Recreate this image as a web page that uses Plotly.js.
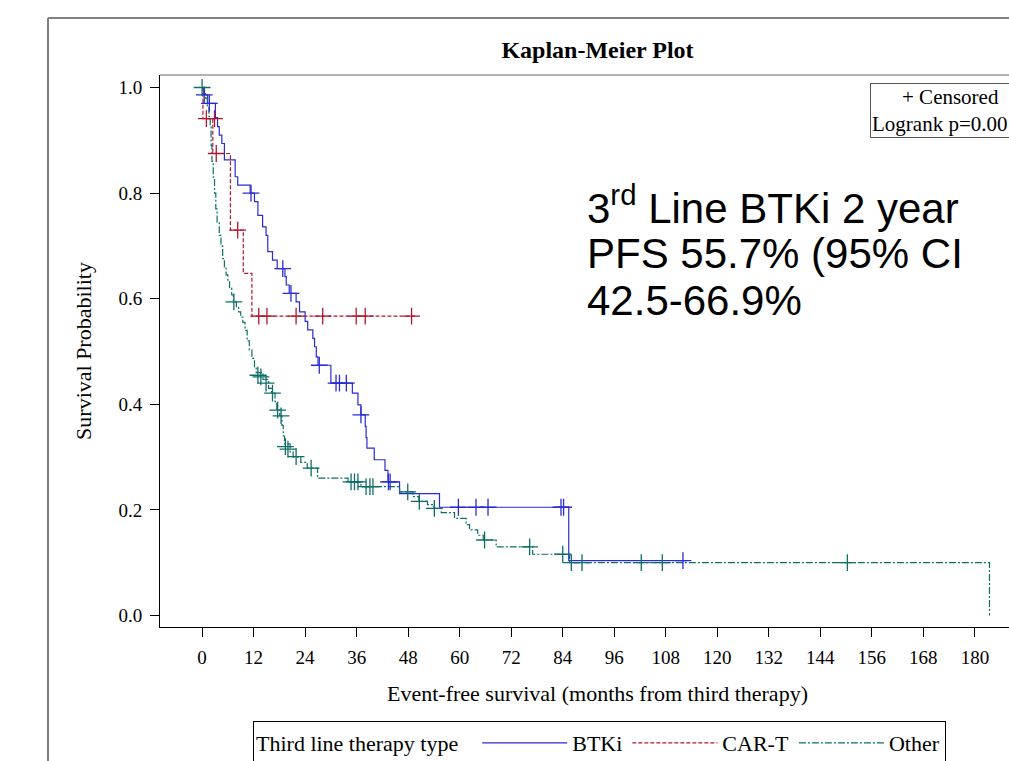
<!DOCTYPE html>
<html><head><meta charset="utf-8">
<script src="https://cdn.plot.ly/plotly-3.0.1.min.js"></script>
<style>html,body{margin:0;padding:0;overflow:hidden;background:#fff}#chart{width:1060px;height:761px}</style>
</head><body><div id="chart"></div>
<script>
// ---- data (months, survival probability) ----
const btkiTime = [0, 0.5, 1.3, 3.1, 3.6, 4.0, 4.6, 5.2, 7.7, 8.3, 11.2, 12.2, 13.0, 14.1, 14.9, 15.3, 16.4, 17.5, 19.3, 19.6, 20.3, 21.9, 22.7, 24.0, 24.6, 25.8, 26.2, 26.6, 27.0, 30.0, 35.0, 36.3, 37.0, 38.0, 38.2, 38.4, 40.1, 42.6, 43.3, 46.0, 55.3, 85.4, 112.8];
const btkiSurv = [1.0, 0.986, 0.97, 0.943, 0.926, 0.91, 0.894, 0.863, 0.831, 0.815, 0.80, 0.784, 0.758, 0.736, 0.72, 0.689, 0.673, 0.657, 0.642, 0.626, 0.61, 0.594, 0.575, 0.557, 0.541, 0.525, 0.509, 0.49, 0.474, 0.44, 0.421, 0.399, 0.38, 0.358, 0.337, 0.317, 0.295, 0.275, 0.253, 0.231, 0.205, 0.104, 0.104];
const btkiCensTime = [0.5, 1.7, 11.4, 18.8, 20.7, 27.3, 31.2, 32.0, 33.6, 37.0, 43.4, 43.8, 59.7, 63.8, 66.6, 83.6, 84.2, 112.0];
const btkiCensSurv = [0.986, 0.97, 0.80, 0.657, 0.61, 0.474, 0.44, 0.44, 0.44, 0.38, 0.253, 0.253, 0.205, 0.205, 0.205, 0.205, 0.205, 0.104];

const cartTime = [0, 0.2, 2.5, 6.6, 9.6, 11.6, 49.6];
const cartSurv = [1.0, 0.941, 0.875, 0.73, 0.648, 0.567, 0.567];
const cartCensTime = [1.0, 2.9, 3.3, 8.3, 13.2, 15.1, 21.9, 28.1, 35.9, 38.0, 48.8];
const cartCensSurv = [0.941, 0.941, 0.875, 0.73, 0.567, 0.567, 0.567, 0.567, 0.567, 0.567, 0.567];

const otherTime = [0, 0.4, 0.8, 1.2, 1.6, 1.9, 2.1, 2.3, 2.6, 2.9, 3.2, 3.5, 4.0, 4.4, 4.8, 5.2, 5.6, 6.0, 6.4, 6.9, 7.3, 8.0, 8.5, 9.0, 9.5, 10.0, 10.5, 11.0, 11.6, 12.2, 12.6, 14.2, 15.5, 16.2, 17.0, 17.4, 18.1, 18.6, 18.9, 19.2, 20.5, 21.2, 23.0, 24.5, 26.9, 34.0, 37.0, 46.0, 49.1, 50.5, 52.5, 54.0, 55.7, 58.8, 61.5, 62.3, 64.2, 65.5, 68.5, 77.0, 85.6, 183.4];
const otherSurv = [1.0, 0.99, 0.98, 0.965, 0.945, 0.925, 0.89, 0.86, 0.83, 0.80, 0.77, 0.745, 0.72, 0.70, 0.676, 0.66, 0.645, 0.632, 0.62, 0.607, 0.594, 0.585, 0.575, 0.565, 0.555, 0.54, 0.52, 0.503, 0.487, 0.471, 0.46, 0.447, 0.43, 0.421, 0.405, 0.39, 0.378, 0.36, 0.34, 0.325, 0.31, 0.30, 0.29, 0.279, 0.26, 0.253, 0.244, 0.234, 0.225, 0.216, 0.21, 0.203, 0.195, 0.184, 0.172, 0.162, 0.152, 0.143, 0.130, 0.116, 0.10, 0.0];
const otherCensTime = [0, 7.4, 13.0, 13.7, 14.9, 16.4, 17.6, 18.4, 19.4, 20.0, 21.9, 25.4, 34.7, 35.5, 36.3, 38.2, 39.1, 39.8, 47.9, 50.6, 54.1, 65.8, 76.3, 84.0, 86.0, 88.5, 102.3, 107.2, 150.3];
const otherCensSurv = [1.0, 0.594, 0.455, 0.452, 0.44, 0.421, 0.389, 0.378, 0.32, 0.315, 0.301, 0.279, 0.253, 0.253, 0.253, 0.244, 0.244, 0.244, 0.234, 0.216, 0.203, 0.143, 0.130, 0.116, 0.10, 0.10, 0.10, 0.10, 0.10];

const xTicks = [0, 12, 24, 36, 48, 60, 72, 84, 96, 108, 120, 132, 144, 156, 168, 180];
const yTicks = [0.0, 0.2, 0.4, 0.6, 0.8, 1.0];
const groupNames = ['BTKi', 'CAR-T', 'Other'];

// ---- styles ----
const SERIF = 'Liberation Serif, Times New Roman, serif';
const SANS = 'Liberation Sans, Arial, sans-serif';
const colors = ['#2b2bd1', '#b3172e', '#0f6e67'];
const dashes = ['solid', '4px,2px', '7px,2px,2px,2px'];

const series = [
  [btkiTime, btkiSurv, btkiCensTime, btkiCensSurv],
  [cartTime, cartSurv, cartCensTime, cartCensSurv],
  [otherTime, otherSurv, otherCensTime, otherCensSurv]
];

const traces = [];
series.forEach((s, i) => {
  traces.push({
    x: s[0], y: s[1], type: 'scatter', mode: 'lines', name: groupNames[i],
    line: {shape: 'hv', color: colors[i], width: 1.2, dash: dashes[i]},
    hoverinfo: 'skip'
  });
});
series.forEach((s, i) => {
  traces.push({
    x: s[2], y: s[3], type: 'scatter', mode: 'markers', showlegend: false,
    marker: {symbol: 'cross-thin-open', size: 12, color: colors[i], line: {color: colors[i], width: 1.3}},
    hoverinfo: 'skip'
  });
});

// pixel helpers for paper positions (plot area: x 160..1035, y 75..627)
const W = 1060, H = 761;
const L = 160, R = 1035, T = 75, B = 627;
const px = v => (v - L) / (R - L);
const py = v => (B - v) / (B - T);

const layout = {
  width: W, height: H,
  margin: {l: L, r: W - R, t: T, b: H - B, autoexpand: false},
  paper_bgcolor: '#fff', plot_bgcolor: '#fff',
  font: {family: SERIF, color: '#000', size: 19},
  title: {text: '<b>Kaplan-Meier Plot</b>', font: {family: SERIF, size: 24, color: '#000'},
          xref: 'paper', x: 0.5, xanchor: 'center', yref: 'container', y: 1 - 50 / H, yanchor: 'middle'},
  xaxis: {
    range: [-9.8, 194], tickvals: xTicks, ticktext: xTicks.map(String),
    ticks: 'outside', ticklen: 9, tickwidth: 1, tickcolor: '#000',
    showline: true, linecolor: '#000', linewidth: 1, showgrid: false, zeroline: false,
    tickfont: {family: SERIF, size: 19}, ticklabelstandoff: 4,
    title: {text: 'Event-free survival (months from third therapy)', font: {family: SERIF, size: 22}, standoff: 18}
  },
  yaxis: {
    range: [-0.0218, 1.0237], tickvals: yTicks, ticktext: yTicks.map(v => v.toFixed(1)),
    ticks: 'outside', ticklen: 9, tickwidth: 1, tickcolor: '#000',
    showline: true, linecolor: '#000', linewidth: 1, showgrid: false, zeroline: false,
    tickfont: {family: SERIF, size: 19}, ticklabelstandoff: 4,
    title: {text: 'Survival Probability', font: {family: SERIF, size: 22}, standoff: 20}
  },
  showlegend: true,
  legend: {
    orientation: 'h', x: px(253), xanchor: 'left', yref: 'container', y: 1 - 721 / H, yanchor: 'top',
    bordercolor: '#000', borderwidth: 1, bgcolor: '#fff',
    font: {family: SERIF, size: 22, color: '#000'},
    title: {text: 'Third line therapy type  ', side: 'left', font: {family: SERIF, size: 22}},
    itemwidth: 85, traceorder: 'normal'
  },
  shapes: [
    {type: 'line', xref: 'paper', yref: 'paper', x0: 0, x1: 1.2, y0: 1, y1: 1, line: {color: '#666', width: 1}},
    {type: 'line', xref: 'paper', yref: 'paper', x0: px(48), x1: 1.2, y0: py(18), y1: py(18), line: {color: '#808080', width: 2}},
    {type: 'line', xref: 'paper', yref: 'paper', x0: px(48), x1: px(48), y0: py(18), y1: py(790), line: {color: '#808080', width: 2}}
  ],
  annotations: [
    {xref: 'paper', yref: 'paper', x: px(870), xanchor: 'left', y: py(83), yanchor: 'top',
     text: '+ Censored<br>Logrank p=0.0010', showarrow: false, align: 'center',
     font: {family: SERIF, size: 21, color: '#000'}, bordercolor: '#555', borderwidth: 1, borderpad: 1, bgcolor: '#fff'},
    {xref: 'paper', yref: 'paper', x: px(585), xanchor: 'left', y: py(205), yanchor: 'middle',
     text: '3<sup>rd</sup> Line BTKi 2 year', showarrow: false, font: {family: SANS, size: 42, color: '#000'}},
    {xref: 'paper', yref: 'paper', x: px(585), xanchor: 'left', y: py(253), yanchor: 'middle',
     text: 'PFS 55.7% (95% CI', showarrow: false, font: {family: SANS, size: 42, color: '#000'}},
    {xref: 'paper', yref: 'paper', x: px(585), xanchor: 'left', y: py(300), yanchor: 'middle',
     text: '42.5-66.9%', showarrow: false, font: {family: SANS, size: 42, color: '#000'}}
  ]
};

Plotly.newPlot('chart', traces, layout, {displayModeBar: false, staticPlot: true});
</script>
</body></html>
